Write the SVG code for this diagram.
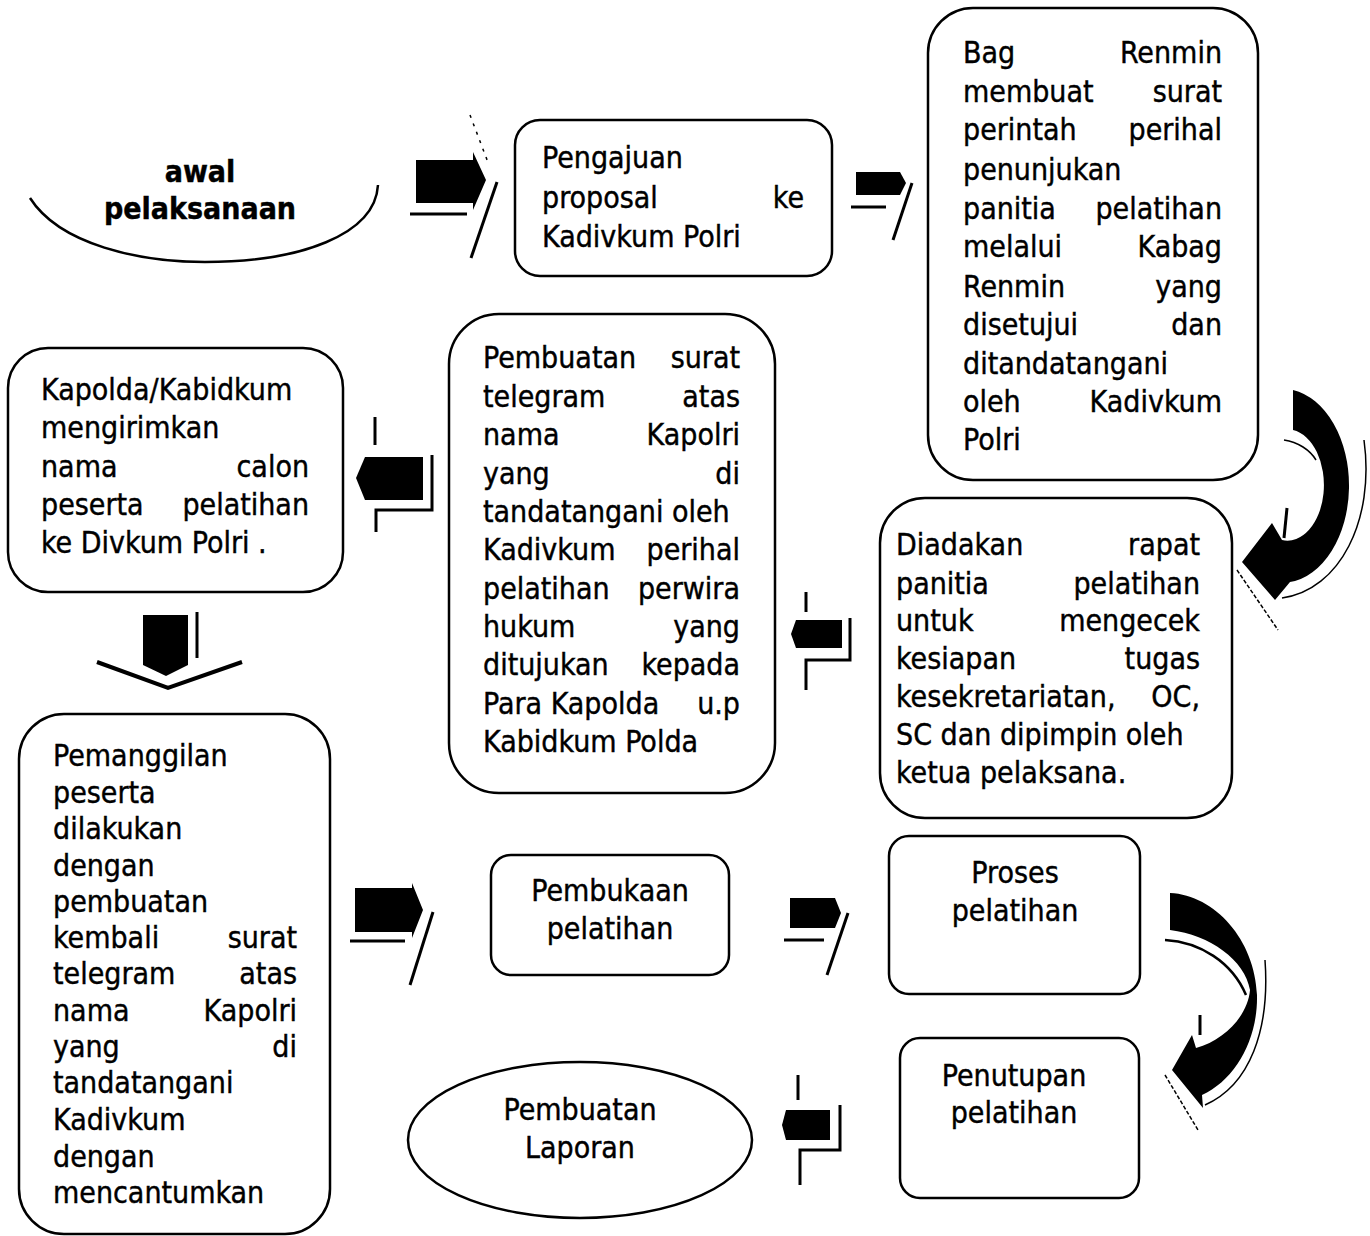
<svg xmlns="http://www.w3.org/2000/svg" width="1370" height="1236" viewBox="0 0 1370 1236">
<style>
.t{font-family:"DejaVu Sans Condensed","DejaVu Sans",sans-serif;font-stretch:condensed;font-size:30px;fill:#000;stroke:#000;stroke-width:0.4}
.e{text-anchor:end}
.m{text-anchor:middle}
.b{font-weight:bold}
.n{fill:#fff;stroke:#000;stroke-width:2.5}
.a{fill:#000;stroke:none}
.s{fill:none;stroke:#000;stroke-width:3}
.th{fill:none;stroke:#000;stroke-width:1.5}
</style>
<rect width="1370" height="1236" fill="#fff"/>

<g id="node-awal">
<path class="n" style="fill:none" d="M30,198 C60,245 140,262 205,262 C300,262 375,235 378,185"/>
<text class="t b m" x="200" y="182">awal</text>
<text class="t b m" x="200" y="219">pelaksanaan</text>
</g>

<g id="node-pengajuan">
<rect class="n" x="515" y="120" width="317" height="156" rx="25"/>
<text class="t" x="542" y="168">Pengajuan</text>
<text class="t" x="542" y="208">proposal</text><text class="t e" x="804" y="208">ke</text>
<text class="t" x="542" y="247">Kadivkum Polri</text>
</g>

<g id="node-bag-renmin">
<rect class="n" x="928" y="8" width="330" height="472" rx="45"/>
<text class="t" x="963" y="63">Bag</text><text class="t e" x="1222" y="63">Renmin</text>
<text class="t" x="963" y="102">membuat</text><text class="t e" x="1222" y="102">surat</text>
<text class="t" x="963" y="140">perintah</text><text class="t e" x="1222" y="140">perihal</text>
<text class="t" x="963" y="180">penunjukan</text>
<text class="t" x="963" y="219">panitia</text><text class="t e" x="1222" y="219">pelatihan</text>
<text class="t" x="963" y="257">melalui</text><text class="t e" x="1222" y="257">Kabag</text>
<text class="t" x="963" y="297">Renmin</text><text class="t e" x="1222" y="297">yang</text>
<text class="t" x="963" y="335">disetujui</text><text class="t e" x="1222" y="335">dan</text>
<text class="t" x="963" y="374">ditandatangani</text>
<text class="t" x="963" y="412">oleh</text><text class="t e" x="1222" y="412">Kadivkum</text>
<text class="t" x="963" y="450">Polri</text>
</g>

<g id="node-rapat">
<rect class="n" x="880" y="498" width="352" height="320" rx="45"/>
<text class="t" x="896" y="555">Diadakan</text><text class="t e" x="1200" y="555">rapat</text>
<text class="t" x="896" y="594">panitia</text><text class="t e" x="1200" y="594">pelatihan</text>
<text class="t" x="896" y="631">untuk</text><text class="t e" x="1200" y="631">mengecek</text>
<text class="t" x="896" y="669">kesiapan</text><text class="t e" x="1200" y="669">tugas</text>
<text class="t" x="896" y="707">kesekretariatan,</text><text class="t e" x="1200" y="707">OC,</text>
<text class="t" x="896" y="745">SC dan dipimpin oleh</text>
<text class="t" x="896" y="783">ketua pelaksana.</text>
</g>

<g id="node-telegram">
<rect class="n" x="449" y="314" width="326" height="479" rx="50"/>
<text class="t" x="483" y="368">Pembuatan</text><text class="t e" x="740" y="368">surat</text>
<text class="t" x="483" y="407">telegram</text><text class="t e" x="740" y="407">atas</text>
<text class="t" x="483" y="445">nama</text><text class="t e" x="740" y="445">Kapolri</text>
<text class="t" x="483" y="484">yang</text><text class="t e" x="740" y="484">di</text>
<text class="t" x="483" y="522">tandatangani oleh</text>
<text class="t" x="483" y="560">Kadivkum</text><text class="t e" x="740" y="560">perihal</text>
<text class="t" x="483" y="599">pelatihan</text><text class="t e" x="740" y="599">perwira</text>
<text class="t" x="483" y="637">hukum</text><text class="t e" x="740" y="637">yang</text>
<text class="t" x="483" y="675">ditujukan</text><text class="t e" x="740" y="675">kepada</text>
<text class="t" x="483" y="714">Para Kapolda</text><text class="t e" x="740" y="714">u.p</text>
<text class="t" x="483" y="752">Kabidkum Polda</text>
</g>

<g id="node-kapolda">
<rect class="n" x="8" y="348" width="335" height="244" rx="40"/>
<text class="t" x="41" y="400">Kapolda/Kabidkum</text>
<text class="t" x="41" y="438">mengirimkan</text>
<text class="t" x="41" y="477">nama</text><text class="t e" x="309" y="477">calon</text>
<text class="t" x="41" y="515">peserta</text><text class="t e" x="309" y="515">pelatihan</text>
<text class="t" x="41" y="553">ke Divkum Polri .</text>
</g>

<g id="node-pemanggilan">
<rect class="n" x="19" y="714" width="311" height="520" rx="45"/>
<text class="t" x="53" y="766">Pemanggilan</text>
<text class="t" x="53" y="803">peserta</text>
<text class="t" x="53" y="839">dilakukan</text>
<text class="t" x="53" y="876">dengan</text>
<text class="t" x="53" y="912">pembuatan</text>
<text class="t" x="53" y="948">kembali</text><text class="t e" x="297" y="948">surat</text>
<text class="t" x="53" y="984">telegram</text><text class="t e" x="297" y="984">atas</text>
<text class="t" x="53" y="1021">nama</text><text class="t e" x="297" y="1021">Kapolri</text>
<text class="t" x="53" y="1057">yang</text><text class="t e" x="297" y="1057">di</text>
<text class="t" x="53" y="1093">tandatangani</text>
<text class="t" x="53" y="1130">Kadivkum</text>
<text class="t" x="53" y="1167">dengan</text>
<text class="t" x="53" y="1203">mencantumkan</text>
</g>

<g id="node-pembukaan">
<rect class="n" x="491" y="855" width="238" height="120" rx="20"/>
<text class="t m" x="610" y="901">Pembukaan</text>
<text class="t m" x="610" y="939">pelatihan</text>
</g>

<g id="node-proses">
<rect class="n" x="889" y="836" width="251" height="158" rx="20"/>
<text class="t m" x="1015" y="883">Proses</text>
<text class="t m" x="1015" y="921">pelatihan</text>
</g>

<g id="node-penutupan">
<rect class="n" x="900" y="1038" width="239" height="160" rx="20"/>
<text class="t m" x="1014" y="1086">Penutupan</text>
<text class="t m" x="1014" y="1123">pelatihan</text>
</g>

<g id="node-laporan">
<ellipse class="n" cx="580" cy="1140" rx="172" ry="78"/>
<text class="t m" x="580" y="1120">Pembuatan</text>
<text class="t m" x="580" y="1158">Laporan</text>
</g>

<g id="connectors">
<!-- A1 -->
<path class="a" d="M416,160 H473 V152 L486,180 L473,210 V203 H416 Z"/>
<line class="s" x1="410" y1="214" x2="467" y2="214"/>
<line class="s" x1="497" y1="182" x2="471" y2="258"/>
<line class="th" x1="470" y1="115" x2="489" y2="165" stroke-dasharray="3,6"/>
<!-- A2 -->
<path class="a" d="M856,172 H900 L906,183 L900,195 H856 Z"/>
<line class="s" x1="851" y1="207" x2="886" y2="207"/>
<line class="s" x1="912" y1="183" x2="893" y2="240"/>
<!-- A3 left -->
<path class="a" d="M423,457 H365 L356,478 L365,500 H423 Z"/>
<line class="s" x1="375" y1="417" x2="375" y2="445"/>
<path class="s" d="M432,455 V510 H376 V532"/>
<!-- A4 down -->
<path class="a" d="M143,615 H188 V665 L166,676 L143,665 Z"/>
<line class="s" x1="197" y1="612" x2="197" y2="658"/>
<path class="s" style="stroke-width:4" d="M97,662 L168,688 L242,662"/>
<!-- A5 left -->
<path class="a" d="M842,620 H796 L791,634 L796,648 H842 Z"/>
<line class="s" x1="806" y1="592" x2="806" y2="612"/>
<path class="s" d="M850,618 V660 H806 V690"/>
<!-- A6 -->
<path class="a" d="M790,898 H835 L841,913 L835,928 H790 Z"/>
<line class="s" x1="784" y1="940" x2="824" y2="940"/>
<line class="s" x1="848" y1="913" x2="827" y2="975"/>
<!-- A7 -->
<path class="a" d="M355,888 H412 V883 L423,910 L412,938 V932 H355 Z"/>
<line class="s" x1="350" y1="941" x2="405" y2="941"/>
<line class="s" x1="433" y1="912" x2="410" y2="985"/>
<!-- A8 left -->
<path class="a" d="M830,1110 H786 L782,1125 L786,1140 H830 Z"/>
<line class="s" x1="798" y1="1075" x2="798" y2="1100"/>
<path class="s" d="M840,1105 V1150 H800 V1185"/>
<!-- C1 curved -->
<path class="a" d="M1293,390 A67,97 0 0 1 1290,582 L1275,600 L1242,562 L1272,523 L1282,540 A36,55 0 0 0 1293,430 Z"/>
<path class="th" d="M1284,440 C1298,442 1310,450 1316,460"/>
<line class="s" x1="1287" y1="508" x2="1284" y2="538"/>
<line class="th" x1="1237" y1="570" x2="1278" y2="630" stroke-dasharray="4,2"/>
<path class="th" d="M1364,440 C1375,520 1340,590 1282,598"/>
<!-- C2 curved -->
<path class="a" d="M1170,893 C1215,895 1255,940 1257,995 C1258,1040 1235,1080 1202,1095 L1203,1108 L1172,1070 L1192,1035 L1196,1048 C1225,1040 1248,1015 1250,990 C1245,960 1210,935 1170,930 Z"/>
<path class="th" style="stroke-width:2.5" d="M1165,940 C1200,942 1232,962 1246,995"/>
<line class="s" x1="1200" y1="1015" x2="1200" y2="1035"/>
<line class="th" x1="1165" y1="1075" x2="1198" y2="1130" stroke-dasharray="4,2"/>
<path class="th" d="M1265,960 C1270,1030 1250,1085 1205,1105"/>
</g>
</svg>
